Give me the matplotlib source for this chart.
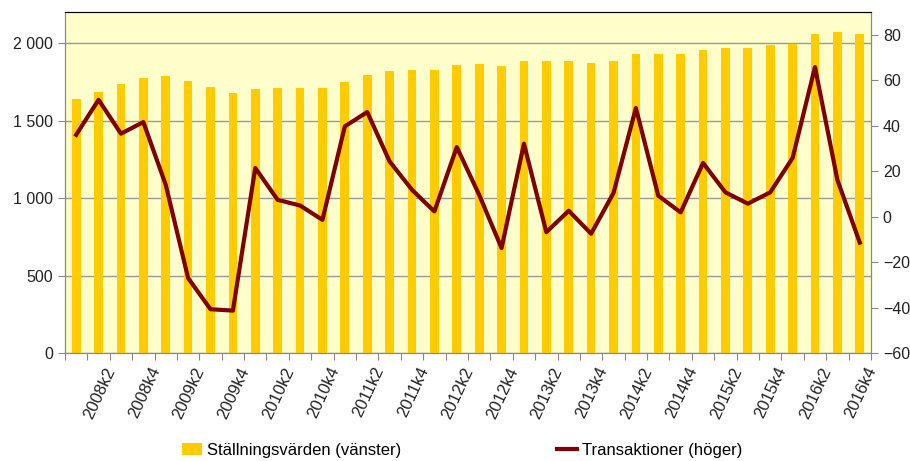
import numpy as np
import matplotlib.pyplot as plt
import matplotlib

matplotlib.rcParams['font.family'] = ['Liberation Sans', 'DejaVu Sans']

# Kvartal 2008k1 - 2016k4
kvartal = [f"{ar}k{k}" for ar in range(2008, 2017) for k in range(1, 5)]

# Ställningsvärden (vänster axel)
stallning = [1638, 1686, 1733, 1772, 1787, 1757, 1718, 1677, 1701, 1709, 1709, 1709,
             1748, 1795, 1819, 1828, 1828, 1858, 1866, 1851, 1882, 1882, 1882, 1873,
             1882, 1929, 1929, 1929, 1953, 1968, 1968, 1985, 1994, 2056, 2071, 2056]

# Transaktioner (höger axel)
transaktioner = [36.0, 51.4, 36.5, 41.6, 14.0, -27.0, -40.7, -41.3, 21.4, 7.4, 4.9, -1.4,
                 39.7, 46.0, 24.3, 11.8, 2.3, 30.6, 9.6, -13.8, 32.1, -6.8, 2.6, -7.5,
                 10.4, 47.8, 9.2, 1.9, 23.6, 10.7, 5.7, 10.7, 25.8, 65.8, 16.2, -11.4]

x = np.arange(len(kvartal))

fig = plt.figure(figsize=(9.1, 4.61), dpi=100)
ax = fig.add_axes([0.0714, 0.234, 0.8857, 0.740])
ax.set_facecolor('#FFFFCC')

ax.bar(x, stallning, width=0.39, color='#FFCC00', zorder=2, label='Ställningsvärden (vänster)')
ax.set_ylim(0, 2200)
ax.set_xlim(-0.5, len(x) - 0.5)
ax.set_yticks([0, 500, 1000, 1500, 2000])
ax.set_yticklabels(['0', '500', '1 000', '1 500', '2 000'])
ax.yaxis.grid(True, color='#999999', linewidth=1, zorder=1)
ax.set_axisbelow(True)

# x-axel: streck mellan kvartal, etiketter vartannat kvartal
ax.set_xticks(np.arange(-0.5, len(x), 1))
ax.set_xticklabels([])
ax.tick_params(axis='x', length=5, color='#888888', direction='out')
for i in range(1, len(x), 2):
    ax.text(i + 0.25, -75, kvartal[i], rotation=65, ha='right', va='top',
            rotation_mode='anchor', fontsize=12, color='#222222')

ax.tick_params(axis='y', length=5, color='#888888', labelsize=11.5, labelcolor='#222222')

ax2 = ax.twinx()
ax2.plot(x, transaktioner, color='#7F0000', linewidth=3, zorder=3, label='Transaktioner (höger)')
ax2.set_ylim(-60, 90)
ax2.set_yticks(np.arange(-60, 81, 20))
ax2.tick_params(axis='y', length=5, color='#888888', labelsize=11.5, labelcolor='#222222')

for a in (ax, ax2):
    for s in ('left', 'right', 'bottom'):
        a.spines[s].set_color('#888888')
    a.spines['top'].set_color('black')

h1, l1 = ax.get_legend_handles_labels()
h2, l2 = ax2.get_legend_handles_labels()
fig.legend(h1 + h2, l1 + l2, loc='lower center', bbox_to_anchor=(0.508, -0.025), ncol=2,
           frameon=False, fontsize=12, columnspacing=9.3, handlelength=1.2, handletextpad=0.3)

plt.savefig('out.png', dpi=100)
